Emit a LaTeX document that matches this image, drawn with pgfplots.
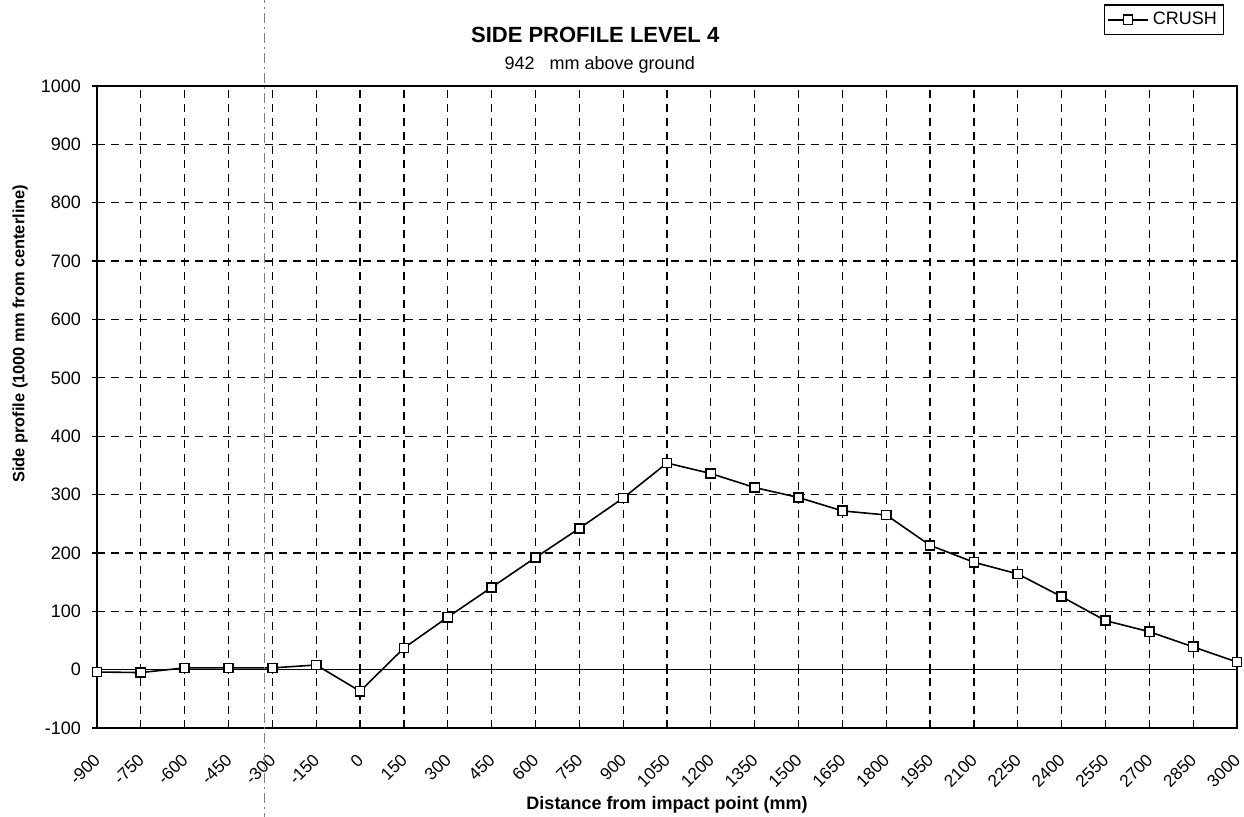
\documentclass[border=0pt]{standalone}
\usepackage{fontspec}
\setmainfont{Liberation Sans}
\usepackage{pgfplots}
\pgfplotsset{compat=1.18}
\begin{document}
\begin{tikzpicture}
\begin{axis}[
  scale only axis,
  width=570pt, height=321pt,
  xmin=-900, xmax=3000,
  ymin=-100, ymax=1000,
  xtick={-900,-750,...,3000},
  ytick={-100,0,...,1000},
  /pgf/number format/assume math mode=true,
  /pgf/number format/1000 sep={},
  tick label style={font=\fontsize{9}{10}\selectfont},
  xticklabel style={font=\fontsize{8.6}{10}\selectfont, rotate=45, anchor=north east, xshift=-5pt, yshift=-2pt},
  yticklabel style={xshift=-2pt},
  xtick style={draw=none},
  ytick style={black, line width=0.6pt},
  tick align=center,
  major tick length=5pt,
  ytick pos=left,
  grid=major,
  major grid style={black, line width=0.6pt, dash pattern=on 4pt off 3pt},
  axis line style={black, line width=0.8pt},
  extra y ticks={0},
  extra y tick labels={},
  extra y tick style={grid=major, major grid style={solid, black, line width=0.7pt}},
  xlabel={Distance from impact point (mm)},
  ylabel={Side profile (1000 mm from centerline)},
  xlabel style={font=\bfseries\fontsize{9}{10}\selectfont, at={(axis description cs:0.5,-0.12)}, anchor=center},
  ylabel style={font=\bfseries\fontsize{8.2}{10}\selectfont, at={(axis description cs:-0.0675,0.614)}, anchor=center},
  clip=false,
  legend style={at={(axis description cs:0.936,1.103)}, anchor=center, draw=black, line width=0.6pt,
    font=\fontsize{9}{10}\selectfont, inner sep=1.5pt, row sep=0pt},
  legend image code/.code={\draw[#1, mark repeat=2, mark phase=2] plot coordinates {(0pt,0pt) (10pt,0pt) (20pt,0pt)};},
]
\addplot[black, line width=0.8pt, mark=square*, mark size=2.3pt, mark options={fill=white, solid, line width=0.8pt}]
coordinates {
(-900,-4) (-750,-5) (-600,3) (-450,3) (-300,3) (-150,8) (0,-37) (150,37)
(300,90) (450,141) (600,192) (750,242) (900,294) (1050,354) (1200,336)
(1350,312) (1500,295) (1650,272) (1800,265) (1950,213) (2100,184)
(2250,164) (2400,125) (2550,84) (2700,65) (2850,39) (3000,13)
};
\addlegendentry{CRUSH}
\foreach \x in {-900,-750,...,3000} {\edef\tmp{\noexpand\draw[black, line width=0.6pt] (axis cs:\x,-8) -- (axis cs:\x,8);}\tmp}
\node[font=\bfseries\fontsize{11}{13}\selectfont] at (axis description cs:0.437,1.079) {SIDE PROFILE LEVEL 4};
\node[font=\fontsize{9}{10}\selectfont] at (axis description cs:0.441,1.033) {942\ \ \ mm above ground};
\draw[overlay, gray, line width=0.4pt, dash pattern=on 5pt off 2pt on 1pt off 2pt] (axis description cs:0.147,1.3) -- (axis description cs:0.147,-0.3);
\coordinate (bl) at (axis description cs:0,0);
\coordinate (tr) at (axis description cs:1,1);
\end{axis}
\pgfresetboundingbox
\path[use as bounding box] (bl) ++(-48.5pt,-44pt) rectangle ([shift={(3.5pt,43pt)}]tr);
\end{tikzpicture}
\end{document}
